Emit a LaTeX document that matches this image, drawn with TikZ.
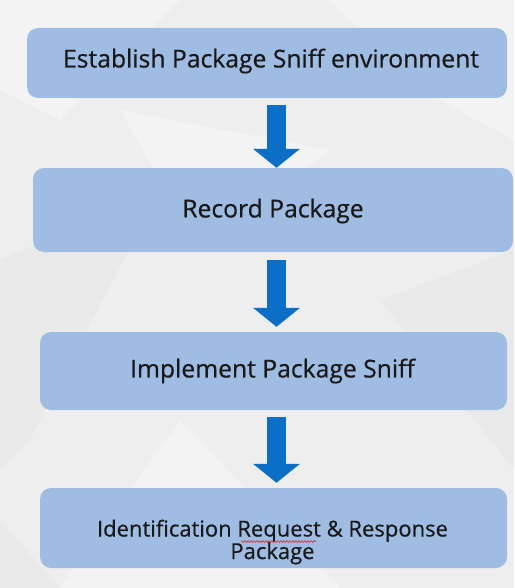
\documentclass[tikz,border=0pt]{standalone}
\usepackage{fontspec}
\setmainfont{Open Sans}
\newfontfamily\stepfont[FakeBold=0.6]{Open Sans}
\usetikzlibrary{arrows.meta,decorations.pathmorphing}
\definecolor{bgbase}{HTML}{EEEEEE}
\definecolor{boxfill}{HTML}{9FBDE3}
\definecolor{flowblue}{HTML}{0B6EC7}
\definecolor{spellred}{HTML}{D03030}
\tikzset{
  stepbox/.style={fill=boxfill, rounded corners=11pt, draw=none, inner sep=0pt},
  steptext/.style={font=\stepfont\fontsize{24.7}{27}\selectfont, text=black!90, align=center},
  flow/.style={draw=flowblue, line width=19pt,
    -{Triangle[width=46pt,length=19pt]}},
  facet/.style={fill=white, opacity=0.3, draw=none},
  shade/.style={fill=black, opacity=0.02, draw=none}
}
\begin{document}
\begin{tikzpicture}[x=1pt,y=-1pt]
  % page and faint faceted background
  \fill[bgbase] (0,0) rectangle (514,588);
  \useasboundingbox (0,0) rectangle (514,588);
  \fill[facet] (0,0) -- (180,0) -- (60,120) -- (0,90) -- cycle;
  \fill[facet] (330,0) -- (514,0) -- (514,140) -- (420,90) -- cycle;
  \fill[shade] (0,260) -- (160,190) -- (30,440) -- (0,470) -- cycle;
  \fill[facet] (60,588) -- (180,420) -- (340,588) -- cycle;
  \fill[shade] (380,300) -- (514,250) -- (514,470) -- cycle;
  \fill[facet] (120,110) -- (330,150) -- (200,250) -- cycle;
  \fill[shade] (0,520) -- (60,588) -- (0,588) -- cycle;

  % process steps
  \node[stepbox, minimum width=480pt, minimum height=70pt] (b1) at (267,63) {};
  \node[stepbox, minimum width=480pt, minimum height=84pt] (b2) at (273,210) {};
  \node[stepbox, minimum width=467pt, minimum height=78pt] (b3) at (273.5,371) {};
  \node[stepbox, minimum width=467pt, minimum height=80pt] (b4) at (273.5,528) {};

  \node[steptext] (t1) at (271,61) {Establish Package Sniff environment};
  \node[steptext] (t2) at (273,211) {Record Package};
  \node[steptext] (t3) at (272.5,371) {Implement Package Sniff};
  \node[steptext, font=\stepfont\fontsize{22}{22.5}\selectfont] (t4) at (272.5,542)
    {Identification Request \& Response\\Package};
  % spell-check underline below "Request"
  \draw[spellred, line width=0.6pt,
    decorate, decoration={snake, amplitude=0.9pt, segment length=3pt}]
    (241,541.5) -- (316,541.5);

  % connectors between the steps
  \coordinate (ax) at (276.5,0);
  \draw[flow] (b1.south -| ax) ++(0,7) -- (b2.north -| ax);
  \draw[flow] (b2.south -| ax) ++(0,8) -- ([yshift=5pt]b3.north -| ax);
  \draw[flow] (b3.south -| ax) ++(0,7) -- ([yshift=5pt]b4.north -| ax);
\end{tikzpicture}
\end{document}
